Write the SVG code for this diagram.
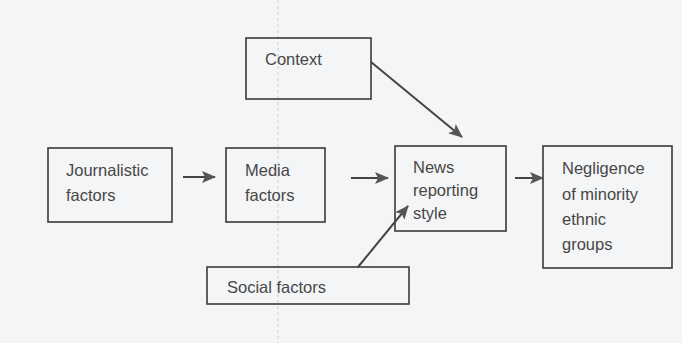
<svg xmlns="http://www.w3.org/2000/svg" width="682" height="343" viewBox="0 0 682 343">
<style>
.box{fill:none;stroke:#3a3a3a;stroke-width:1.6}
.t{font-family:"Liberation Sans",Arial,sans-serif;font-size:16.5px;fill:#474747}
.c{stroke:#444;stroke-width:2;fill:none;marker-end:url(#ah)}
</style>
<defs>
<marker id="ah" viewBox="0 0 14 12" refX="13" refY="6" markerWidth="14" markerHeight="12" markerUnits="userSpaceOnUse" orient="auto">
<path d="M0,0 L14,6 L0,12 L3,6 Z" fill="#555"/>
</marker>
</defs>
<rect width="682" height="343" fill="#f4f5f7"/>
<line x1="278" y1="0" x2="278" y2="343" stroke="#cccccc" stroke-width="1" stroke-dasharray="3,3"/>
<g id="context"><rect class="box" x="246" y="38" width="125" height="61"/><text class="t" x="265" y="65">Context</text></g>
<g id="journalistic"><rect class="box" x="48" y="148" width="124" height="74"/><text class="t" x="66" y="176">Journalistic</text><text class="t" x="66" y="201">factors</text></g>
<g id="media"><rect class="box" x="226" y="148" width="99" height="74"/><text class="t" x="245" y="176">Media</text><text class="t" x="245" y="201">factors</text></g>
<g id="news"><rect class="box" x="395" y="146" width="111" height="85"/><text class="t" x="413" y="173">News</text><text class="t" x="413" y="196">reporting</text><text class="t" x="413" y="219">style</text></g>
<g id="negligence"><rect class="box" x="543" y="146" width="129" height="122"/><text class="t" x="562" y="174">Negligence</text><text class="t" x="562" y="200">of minority</text><text class="t" x="562" y="225">ethnic</text><text class="t" x="562" y="250">groups</text></g>
<g id="social"><rect class="box" x="207" y="267" width="202" height="37"/><text class="t" x="227" y="293">Social factors</text></g>
<g id="connectors">
<line class="c" x1="183" y1="177" x2="215" y2="177"/>
<line class="c" x1="351" y1="178" x2="388" y2="178"/>
<line class="c" x1="515" y1="178" x2="543" y2="178"/>
<line class="c" x1="371" y1="62" x2="462" y2="137"/>
<line class="c" x1="358" y1="267" x2="408" y2="206"/>
</g>
</svg>
